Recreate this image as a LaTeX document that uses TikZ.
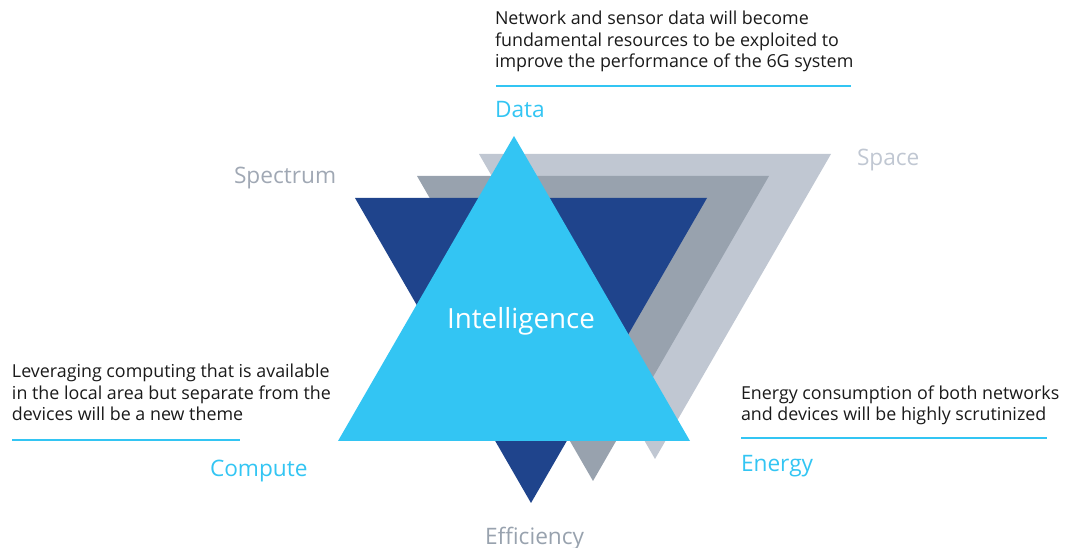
\documentclass[tikz,border=0pt]{standalone}
\usepackage{fontspec}
\setmainfont{Open Sans}
\usepackage{xcolor}
\usepackage{tikz}
\usetikzlibrary{positioning}

\definecolor{skyblue}{HTML}{33C5F3}
\definecolor{navyblue}{HTML}{1F448C}
\definecolor{midgray}{HTML}{98A2AE}
\definecolor{fadegray}{HTML}{C0C7D2}
\definecolor{slategray}{HTML}{A0A8B4}
\definecolor{inkdark}{HTML}{1A1A1A}

\begin{document}
\begin{tikzpicture}[
			x = 0.75pt, y = -0.75pt,
			every node/.style = {inner sep=0pt, outer sep=0pt},
			para/.style = {anchor=base west, align=left, text=inkdark, font=\fontsize{13.4}{16.2}\selectfont},
			pillar/.style = {anchor=base west, text=skyblue, font=\fontsize{17}{20}\selectfont},
			corner/.style = {anchor=base west, font=\fontsize{17}{20}\selectfont},
			rule/.style = {skyblue, line width=1pt}
			]

			\useasboundingbox (0,0) rectangle (1065,548);

			% the three downward triangles, back to front
			\foreach \tx/\ty/\col in {479/154/fadegray, 417/176/midgray, 355/198/navyblue}
				\fill[\col] (\tx,\ty) -- ++(352,0) -- ++(-176,305) -- cycle;

			% the upward triangle
			\fill[skyblue] (514,136) -- (690,441) -- (338,441) -- cycle;
			\node[anchor=base, text=white, font=\fontsize{20.8}{24}\selectfont] (intel) at (521,329) {Intelligence};

			% corner labels of the down triangles
			\node[corner, text=slategray] (spectrum) at (234,184) {Spectrum};
			\node[corner, text=fadegray] (space) at (857,166) {Space};
			\node[corner, text=midgray] (effic) at (485,545) {Efficiency};

			% data (base = last line)
			\node[para] (datatxt) at (495,68) {Network and sensor data will become\\fundamental resources to be exploited to\\improve the performance of the 6G system};
			\draw[rule] (496,86) -- (851,86);
			\node[pillar] (data) at (495,118) {Data};

			% compute
			\node[para] (comptxt) at (12,421) {Leveraging computing that is available\\in the local area but separate from the\\devices will be a new theme};
			\draw[rule] (12,440) -- (240,440);
			\node[pillar] (compute) at (210,477) {Compute};

			% energy
			\node[para] (enertxt) at (741,421) {Energy consumption of both networks\\and devices will be highly scrutinized};
			\draw[rule] (741,438) -- (1047,438);
			\node[pillar] (energy) at (741,472) {Energy};

		\end{tikzpicture}
\end{document}
